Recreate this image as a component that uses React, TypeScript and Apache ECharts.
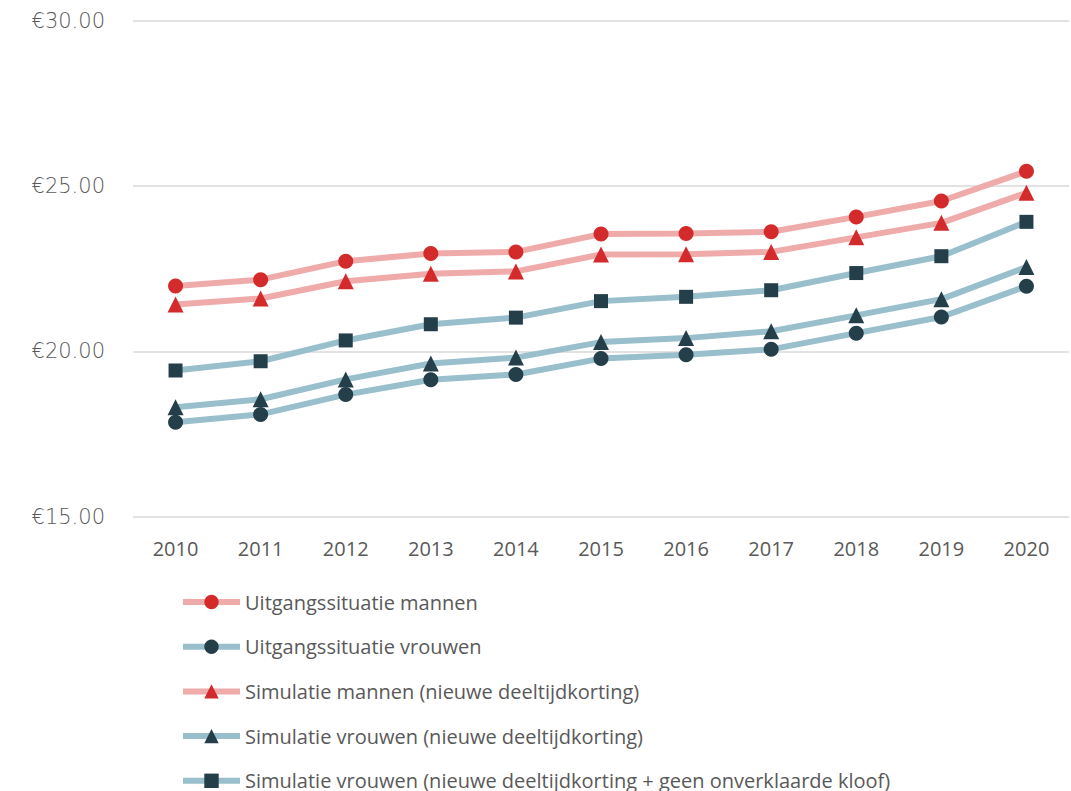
import React, { useEffect, useRef } from "react";
import * as echarts from "echarts";

// Years on the x axis
const years = ["2010", "2011", "2012", "2013", "2014", "2015", "2016", "2017", "2018", "2019", "2020"];

// Hourly wage (€) per scenario
const uitgangMannen = [21.98, 22.17, 22.73, 22.96, 23.01, 23.55, 23.57, 23.62, 24.07, 24.55, 25.45];
const uitgangVrouwen = [17.85, 18.09, 18.69, 19.14, 19.3, 19.78, 19.9, 20.06, 20.55, 21.04, 21.97];
const simMannen = [21.42, 21.6, 22.12, 22.35, 22.42, 22.93, 22.94, 23.01, 23.45, 23.89, 24.8];
const simVrouwen = [18.31, 18.55, 19.15, 19.63, 19.81, 20.28, 20.4, 20.61, 21.09, 21.58, 22.55];
const simVrouwenKloof = [19.42, 19.7, 20.33, 20.82, 21.02, 21.52, 21.65, 21.85, 22.37, 22.88, 23.92];

const seriesNames = [
  "Uitgangssituatie mannen",
  "Uitgangssituatie vrouwen",
  "Simulatie mannen (nieuwe deeltijdkorting)",
  "Simulatie vrouwen (nieuwe deeltijdkorting)",
  "Simulatie vrouwen (nieuwe deeltijdkorting + geen onverklaarde kloof)",
];

const PINK_LINE = "#EFAAAA";
const BLUE_LINE = "#98BFCB";
const RED_MARK = "#D32B2B";
const DARK_MARK = "#243F4A";

function makeSeries(
  name: string,
  data: number[],
  lineColor: string,
  markColor: string,
  symbol: string,
  symbolSize: number
) {
  return {
    name,
    type: "line",
    data,
    symbol,
    symbolSize,
    showAllSymbol: true,
    lineStyle: { color: lineColor, width: 6 },
    itemStyle: { color: markColor, borderWidth: 0 },
    emphasis: { disabled: true },
  };
}

export default function App() {
  const ref = useRef<HTMLDivElement>(null);

  useEffect(() => {
    if (!ref.current) return;
    const chart = echarts.init(ref.current, undefined, { renderer: "svg" });
    chart.setOption({
      animation: false,
      backgroundColor: "#ffffff",
      grid: { left: 133, right: 2, top: 21, height: 495.5, containLabel: false },
      xAxis: {
        type: "category",
        data: years,
        boundaryGap: true,
        axisLine: { show: false },
        axisTick: { show: false },
        axisLabel: {
          color: "#595959",
          fontFamily: "Open Sans",
          fontSize: 20,
          margin: 22,
        },
      },
      yAxis: {
        type: "value",
        min: 15,
        max: 30,
        interval: 5,
        axisLine: { show: false },
        axisTick: { show: false },
        splitLine: { lineStyle: { color: "#D9D9D9", width: 1.5 } },
        axisLabel: {
          color: "#595959",
          fontFamily: "DejaVu Sans",
          fontWeight: 300,
          fontSize: 21,
          margin: 28,
          formatter: (v: number) => "€" + v.toFixed(2),
        },
      },
      legend: {
        orient: "vertical",
        left: 175,
        top: 587,
        height: 300,
        padding: 5,
        itemWidth: 57,
        itemHeight: 18,
        itemGap: 24.7,
        lineStyle: { width: 6 },
        textStyle: {
          color: "#595959",
          fontFamily: "Open Sans",
          fontSize: 20,
          lineHeight: 20,
        },
        data: seriesNames,
      },
      series: [
        makeSeries(seriesNames[0], uitgangMannen, PINK_LINE, RED_MARK, "circle", 15),
        makeSeries(seriesNames[1], uitgangVrouwen, BLUE_LINE, DARK_MARK, "circle", 15),
        makeSeries(seriesNames[2], simMannen, PINK_LINE, RED_MARK, "triangle", 16),
        makeSeries(seriesNames[3], simVrouwen, BLUE_LINE, DARK_MARK, "triangle", 16),
        makeSeries(seriesNames[4], simVrouwenKloof, BLUE_LINE, DARK_MARK, "rect", 14),
      ],
    });
    return () => chart.dispose();
  }, []);

  return (
    <div
      ref={ref}
      style={{ position: "fixed", left: 0, top: 0, width: 1071, height: 791 }}
    />
  );
}
